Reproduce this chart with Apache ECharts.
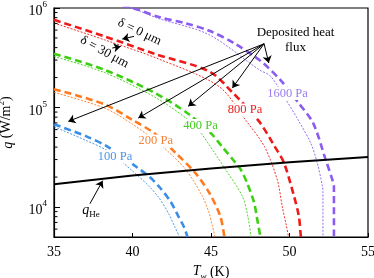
<!DOCTYPE html>
<html><head><meta charset="utf-8">
<script src="https://cdn.jsdelivr.net/npm/echarts@6/dist/echarts.min.js"></script>
<style>html,body{margin:0;padding:0;background:#fff}#c{width:374px;height:278px}</style>
</head><body><div id="c"></div>
<script>
// ---- data ----
const xTicks = [35, 40, 45, 50, 55];
const yMinorTicks = [6e3, 7e3, 8e3, 9e3, 2e4, 3e4, 4e4, 5e4, 6e4, 7e4, 8e4, 9e4, 2e5, 3e5, 4e5, 5e5, 6e5, 7e5, 8e5, 9e5];
const pressures = ['100 Pa', '200 Pa', '400 Pa', '800 Pa', '1600 Pa'];

// delta = 0 um (thick dashed) / delta = 30 um (thin dotted)
const t100a = [35, 37.1, 38.4, 40.3, 41.1, 41.7, 42.4, 42.9, 43.3, 43.5];
const q100a = [6.8e4, 5.1e4, 4.05e4, 2.5e4, 2.0e4, 1.6e4, 1.15e4, 8.2e3, 6.2e3, 5.0e3];
const t100b = [35, 37.0, 38.5, 40.0, 41.0, 41.7, 42.3, 42.7, 43.0];
const q100b = [6.4e4, 4.7e4, 3.6e4, 2.3e4, 1.65e4, 1.23e4, 8.6e3, 6.3e3, 5.0e3];

const t200a = [35, 38.2, 40.0, 41.4, 42.75, 44.0, 44.9, 45.6, 45.85];
const q200a = [1.53e5, 1.08e5, 7.5e4, 5.5e4, 3.5e4, 2.2e4, 1.38e4, 8.0e3, 5.0e3];
const t200b = [35, 38.2, 40.0, 41.9, 43.4, 44.45, 44.85, 45.1, 45.25];
const q200b = [1.42e5, 9.9e4, 6.8e4, 4.06e4, 2.37e4, 1.28e4, 9.0e3, 6.4e3, 5.0e3];

const t400a = [35, 38.2, 41.4, 43.6, 45.0, 45.7, 46.4, 46.9, 47.3, 47.75, 47.95, 48.15];
const q400a = [3.47e5, 2.4e5, 1.41e5, 8.55e4, 5.5e4, 4.06e4, 2.99e4, 2.37e4, 1.74e4, 1.1e4, 7.45e3, 5.0e3];
const t400b = [35, 38.2, 41.5, 43.8, 44.45, 45.94, 47.0, 47.35, 47.55];
const q400b = [3.26e5, 2.25e5, 1.25e5, 7.0e4, 5.3e4, 2.37e4, 1.28e4, 8.0e3, 5.0e3];

const t800a = [35, 38.2, 41.4, 44.9, 46.4, 48.06, 49.0, 49.65, 50.29, 50.6, 50.72];
const q800a = [7.6e5, 5.2e5, 3.47e5, 2.3e5, 1.4e5, 7.25e4, 4.2e4, 2.77e4, 1.28e4, 8.0e3, 5.0e3];
const t800b = [35, 38.2, 41.7, 45.5, 47.2, 48.4, 49.22, 49.54, 49.8, 49.94];
const q800b = [7.06e5, 4.8e5, 3.06e5, 1.63e5, 7.5e4, 4.06e4, 1.88e4, 1.01e4, 6.5e3, 5.0e3];

const t1600a = [38, 40.0, 41.7, 43.4, 44.9, 46.5, 48.2, 49.5, 50.5, 51.5, 52.3, 52.73, 52.83, 52.83];
const q1600a = [1.15e6, 1.0e6, 8.1e5, 7.0e5, 5.9e5, 4.4e5, 2.9e5, 1.83e5, 1.15e5, 7.0e4, 3.0e4, 1.88e4, 1.6e4, 5.0e3];
const t1600b = [38, 39.9, 41.6, 44.87, 48.06, 48.8, 49.7, 50.55, 51.35, 51.77, 52.1, 52.13, 52.13];
const q1600b = [1.1e6, 1.0e6, 7.9e5, 5.4e5, 2.4e5, 2.06e5, 1.25e5, 7.5e4, 4.4e4, 2.77e4, 1.61e4, 1.43e4, 5.0e3];

// helium heat flux line
const tHe = [35, 40, 45, 50, 55];
const qHe = [1.69e4, 2.07e4, 2.44e4, 2.82e4, 3.18e4];

// ---- styling ----
const lineColors = ['#3a8ee6', '#ff7a1f', '#3ccf12', '#ee1a1a', '#8a5cf0'];
const labelColors = ['#4a95ea', '#f7823a', '#44cc22', '#ee2222', '#9b7cf0'];
const FONT = '"Liberation Serif", "DejaVu Serif", serif';

const pairs = (t, q) => t.map((v, i) => [v, q[i]]);
const curves = [
  [t100a, q100a, t100b, q100b],
  [t200a, q200a, t200b, q200b],
  [t400a, q400a, t400b, q400b],
  [t800a, q800a, t800b, q800b],
  [t1600a, q1600a, t1600b, q1600b]
];

const series = [];
curves.forEach((c, i) => {
  series.push({
    type: 'line', name: pressures[i] + ' δ=30', data: pairs(c[2], c[3]),
    showSymbol: false, symbol: 'none', smooth: 0.3, clip: true, z: 2,
    lineStyle: { color: lineColors[i], width: 0.9, type: [2, 1.5] }
  });
  series.push({
    type: 'line', name: pressures[i] + ' δ=0', data: pairs(c[0], c[1]),
    showSymbol: false, symbol: 'none', smooth: 0.3, clip: true, z: 3,
    lineStyle: { color: lineColors[i], width: 2.6, type: [7, 4] }
  });
});

// annotation arrows in data coordinates
const arrows = [
  [[48.38, 4.37e5], [48.68, 2.8e5]],
  [[48.38, 4.37e5], [46.36, 1.57e5]],
  [[48.38, 4.37e5], [43.55, 1.03e5]],
  [[48.38, 4.37e5], [40.37, 7.83e4]],
  [[48.38, 4.37e5], [35.91, 7.25e4]],
  [[40.1, 5.19e5], [39.35, 4.88e5]],
  [[38.71, 3.96e5], [39.25, 4.11e5]],
  [[37.29, 1.08e4], [38.1, 1.84e4]]
];

series.push({
  type: 'line', name: 'qHe', data: pairs(tHe, qHe),
  showSymbol: false, symbol: 'none', z: 5,
  lineStyle: { color: '#000', width: 2 },
  markLine: {
    silent: true, animation: false,
    symbol: ['none', 'arrow'], symbolSize: 7,
    label: { show: false },
    lineStyle: { color: '#000', width: 1, type: 'solid' },
    data: arrows.map(a => [{ coord: a[0] }, { coord: a[1] }])
  }
});

// minor ticks on the log axis
series.push({
  type: 'custom', name: 'minorTicks', silent: true, z: 6,
  data: yMinorTicks.map(v => [35, v]),
  renderItem: (params, api) => {
    const p = api.coord([api.value(0), api.value(1)]);
    return { type: 'line', shape: { x1: p[0], y1: p[1], x2: p[0] + 3.5, y2: p[1] },
             style: { stroke: '#000', lineWidth: 1 } };
  }
});

const graphics = [];
const labelPos = [[115, 156.5], [155.8, 141], [200.5, 125.5], [245, 110], [287.5, 93.5]];
pressures.forEach((p, i) => {
  graphics.push({ type: 'text', x: labelPos[i][0], y: labelPos[i][1], z: 10,
    style: { text: p, fill: labelColors[i], font: '12.5px ' + FONT, align: 'center', verticalAlign: 'middle',
             backgroundColor: '#fff', padding: [0, 1, 0, 1] } });
});
graphics.push({ type: 'text', x: 295.5, y: 40, z: 10,
  style: { text: 'Deposited heat\nflux', fill: '#000', font: '13px ' + FONT, align: 'center', verticalAlign: 'middle', lineHeight: 15.5 } });
graphics.push({ type: 'text', x: 139.5, y: 32, rotation: -0.45, z: 10,
  style: { text: 'δ = 0 μm', fill: '#000', font: '13px ' + FONT, align: 'center', verticalAlign: 'middle' } });
graphics.push({ type: 'text', x: 104.5, y: 52, rotation: -0.5, z: 10,
  style: { text: 'δ = 30 μm', fill: '#000', font: '13px ' + FONT, align: 'center', verticalAlign: 'middle' } });
graphics.push({ type: 'text', x: 91, y: 211, z: 10,
  style: { text: '{i|q}{s|He}', align: 'center', verticalAlign: 'middle',
    rich: { i: { font: 'italic 14px ' + FONT, fill: '#000', verticalAlign: 'top', lineHeight: 16 },
            s: { font: '9px ' + FONT, fill: '#000', verticalAlign: 'bottom', lineHeight: 16 } } } });

const chart = echarts.init(document.getElementById('c'), null, { renderer: 'canvas' });
chart.setOption({
  animation: false,
  backgroundColor: '#fff',
  grid: { left: 54, right: 6, top: 8, bottom: 41, containLabel: false, outerBoundsMode: 'none',
          show: true, borderColor: '#000', borderWidth: 1.2, backgroundColor: 'transparent' },
  xAxis: {
    type: 'value', min: xTicks[0], max: xTicks[xTicks.length - 1], interval: 5,
    name: '{i|T}{s|w} (K)', nameLocation: 'middle', nameGap: 26,
    nameTextStyle: { fontFamily: FONT, fontSize: 14, color: '#000',
      rich: { i: { fontFamily: FONT, fontStyle: 'italic', fontSize: 14, color: '#000', verticalAlign: 'top', lineHeight: 17 },
              s: { fontFamily: FONT, fontStyle: 'italic', fontSize: 9, color: '#000', verticalAlign: 'bottom', lineHeight: 17 } } },
    axisLine: { show: true, lineStyle: { color: '#000', width: 1.2 } },
    axisTick: { show: true, inside: true, length: 4, lineStyle: { color: '#000' } },
    axisLabel: { fontFamily: FONT, fontSize: 14, color: '#000', margin: 8 },
    splitLine: { show: false }
  },
  yAxis: {
    type: 'log', logBase: 10, min: 5000, max: 1e6,
    name: '{i|q} (W/m{s|2})', nameLocation: 'middle', nameGap: 39,
    nameTextStyle: { fontFamily: FONT, fontSize: 14, color: '#000',
      rich: { i: { fontFamily: FONT, fontStyle: 'italic', fontSize: 14, color: '#000', verticalAlign: 'bottom', lineHeight: 18 },
              s: { fontFamily: FONT, fontSize: 9, color: '#000', verticalAlign: 'top', lineHeight: 18 } } },
    axisLine: { show: true, lineStyle: { color: '#000', width: 1.2 } },
    axisTick: { show: true, inside: true, length: 6, lineStyle: { color: '#000' } },
    axisLabel: {
      margin: 7, color: '#000', padding: [3, 0, 0, 0],
      formatter: v => {
        const e = Math.round(Math.log10(v));
        return Math.abs(Math.pow(10, e) - v) < 1e-6 * v ? '{b|10}{s|' + e + '}' : '';
      },
      rich: { b: { fontFamily: FONT, fontSize: 14, color: '#000', verticalAlign: 'bottom', lineHeight: 18 },
              s: { fontFamily: FONT, fontSize: 9, color: '#000', verticalAlign: 'top', lineHeight: 18 } }
    },
    splitLine: { show: false }
  },
  series: series,
  graphic: graphics
});
</script></body></html>
